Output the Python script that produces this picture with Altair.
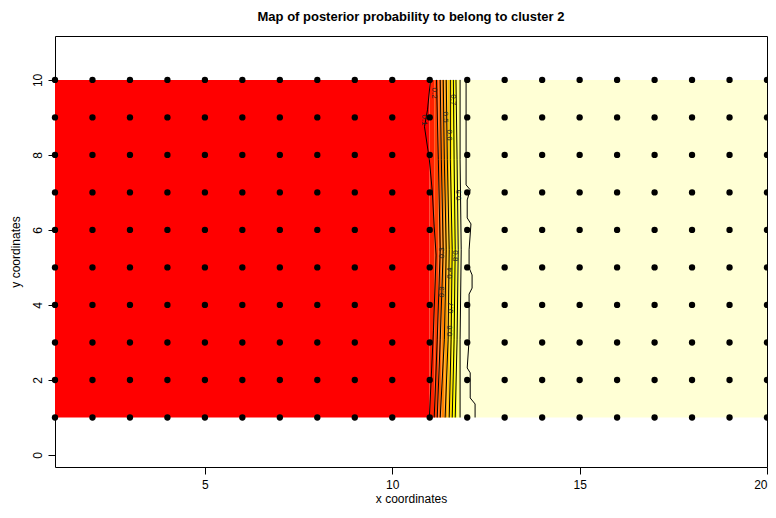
import altair as alt
import pandas as pd

# ---------------- data ----------------
site_x = list(range(1, 21))
site_y = list(range(1, 11))

# probability image: colour bands (heat.colors(12)) with x edges
band_x0 = [1.0, 10.99, 11.12, 11.23, 11.31, 11.39, 11.47, 11.53, 11.60, 11.68, 11.74, 11.82]
band_x1 = [10.99, 11.12, 11.23, 11.31, 11.39, 11.47, 11.53, 11.60, 11.68, 11.74, 11.82, 20.0]
band_color = ["#FF0000", "#FF2000", "#FF4000", "#FF6000", "#FF8000", "#FF9F00",
              "#FFBF00", "#FFDF00", "#FFFF00", "#FFFF2A", "#FFFF80", "#FFFFD5"]
band_ymin = 1.0
band_ymax = 10.0

# contour lines
c_y_main = [10.0, 7.87, 5.47, 3.07, 1.0]
contour_levels = ["0.1", "0.2", "0.3", "0.4", "0.5", "0.6", "0.7", "0.8", "0.9", "1"]
contour_x = {
    "0.1": [11.02, 10.94, 10.86, 10.99, 11.07, 11.12, 11.17, 11.10, 10.99],
    "0.2": [11.18, 11.23, 11.28, 11.20, 11.12],
    "0.3": [11.28, 11.31, 11.36, 11.28, 11.20],
    "0.4": [11.36, 11.39, 11.44, 11.39, 11.28],
    "0.5": [11.44, 11.47, 11.52, 11.49, 11.41],
    "0.6": [11.55, 11.55, 11.60, 11.57, 11.52],
    "0.7": [11.63, 11.65, 11.68, 11.65, 11.60],
    "0.8": [11.70, 11.73, 11.76, 11.73, 11.68],
    "0.9": [11.81, 11.81, 11.84, 11.81, 11.81],
    "1": [11.97, 11.97, 12.08, 12.00, 12.00, 12.10, 12.05, 12.05, 12.13, 12.13,
          12.05, 12.05, 12.00, 12.08, 12.08, 12.21, 12.21],
}
contour_y = {
    "0.1": [10.0, 9.2, 8.75, 7.87, 7.0, 6.08, 5.33, 3.33, 1.0],
    "0.2": c_y_main, "0.3": c_y_main, "0.4": c_y_main, "0.5": c_y_main,
    "0.6": c_y_main, "0.7": c_y_main, "0.8": c_y_main, "0.9": c_y_main,
    "1": [10.0, 7.2, 7.07, 6.8, 6.32, 6.16, 5.47, 4.99, 4.8, 4.45, 4.29, 3.07,
          2.32, 2.19, 1.52, 1.36, 1.0],
}

# contour labels
label_text = ["0.2", "0.1", "0.5", "0.6", "0.7", "0.9", "0.3", "0.8", "0.4", "0.3", "0.7", "0.6"]
label_x = [11.12, 10.86, 11.41, 11.52, 11.63, 11.78, 11.33, 11.68, 11.55, 11.33, 11.57, 11.55]
label_y = [9.65, 8.93, 9.01, 8.53, 9.47, 6.93, 5.39, 5.31, 4.85, 4.35, 3.92, 3.31]
label_angle = [90, 90, 90, 90, 90, 270, 270, 90, 270, 270, 270, 270]

x_ticks = [5, 10, 15, 20]
y_ticks = [0, 2, 4, 6, 8, 10]

# ---------------- tables ----------------
bands = pd.DataFrame({"x0": band_x0, "x1": band_x1, "color": band_color,
                      "y0": band_ymin, "y1": band_ymax})
rows = []
for lev in contour_levels:
    for i, (xx, yy) in enumerate(zip(contour_x[lev], contour_y[lev])):
        rows.append({"level": lev, "idx": i, "x": xx, "y": yy})
contours = pd.DataFrame(rows)
labels = pd.DataFrame({"t": label_text, "x": label_x, "y": label_y, "a": label_angle})
sites = pd.DataFrame([{"x": a, "y": b} for a in site_x for b in site_y])

FONT = "Liberation Sans"
xscale = alt.Scale(domain=[1, 20], nice=False, zero=False)
yscale = alt.Scale(domain=[-0.32, 11.17], nice=False, zero=False)
xaxis = alt.Axis(values=x_ticks, title="x coordinates", format="d")
yaxis = alt.Axis(values=y_ticks, title="y coordinates", format="d",
                 labelAngle=270, labelAlign="center", labelBaseline="bottom")


def X(f):
    return alt.X(f, type="quantitative", scale=xscale, axis=xaxis)


def Y(f):
    return alt.Y(f, type="quantitative", scale=yscale, axis=yaxis)


img = alt.Chart(bands).mark_rect(strokeWidth=0).encode(
    x=X("x0"), x2="x1", y=Y("y0"), y2="y1",
    color=alt.Color("color:N", scale=None))

lines = alt.Chart(contours).mark_line(color="black", strokeWidth=1).encode(
    x=X("x"), y=Y("y"), detail="level:N", order="idx:Q")

texts = alt.Chart(labels).mark_text(font=FONT, fontSize=8, color="#222").encode(
    x=X("x"), y=Y("y"), text="t:N", angle=alt.Angle("a:Q", scale=None))

pts = alt.Chart(sites).mark_circle(size=40, color="black", opacity=1).encode(
    x=X("x"), y=Y("y"))

chart = alt.layer(img, lines, texts, pts).properties(
    width=712, height=431,
    autosize=alt.AutoSizeParams(type="none"),
    padding={"left": 47, "top": 28, "right": 1, "bottom": 37},
    title=alt.TitleParams("Map of posterior probability to belong to cluster  2",
                          font=FONT, fontSize=13, fontWeight="bold",
                          anchor="middle", offset=12, color="black"),
).configure_view(stroke="black", strokeWidth=1).configure_axis(
    grid=False, domain=False, ticks=True, tickSize=7, tickColor="black",
    labelFont=FONT, labelFontSize=12, labelColor="black",
    titleFont=FONT, titleFontSize=12, titleFontWeight="normal", titleColor="black",
).configure_axisX(labelPadding=5, titlePadding=3).configure_axisY(
    labelPadding=4, titlePadding=9)

chart.save("out.html", embed_options={"renderer": "svg", "actions": False})
